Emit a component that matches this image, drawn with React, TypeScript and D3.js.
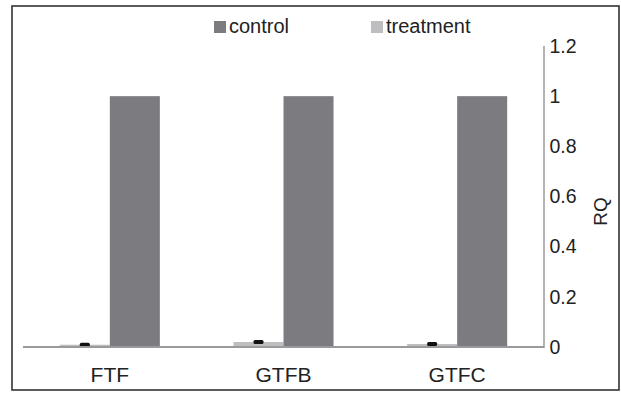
import { useEffect } from "react";
import * as d3 from "d3";

const categories = ["FTF", "GTFB", "GTFC"];
const seriesNames = ["control", "treatment"];
const controlValues = [1, 1, 1];
const treatmentValues = [0.009, 0.02, 0.012];
const treatmentErrors = [0.004, 0.004, 0.004];
const yTicks = [0, 0.2, 0.4, 0.6, 0.8, 1, 1.2];

const colors: Record<string, string> = { control: "#7c7c80", treatment: "#bebec0" };
const font = "'Liberation Sans', Arial, sans-serif";

const App = () => {
  useEffect(() => {
    document.body.style.margin = "0";
  }, []);

  const width = 621;
  const height = 393;
  const plotLeft = 23;
  const plotRight = 544;

  const x = d3.scaleBand<string>().domain(categories).range([plotLeft, plotRight]).paddingInner(0.424).paddingOuter(0.212);
  // treatment drawn on the left, control on the right
  const xSub = d3.scaleBand<string>().domain(["treatment", "control"]).range([0, x.bandwidth()]);
  const y = d3.scaleLinear().domain([0, 1.2]).range([347, 46]);

  return (
    <svg width={width} height={height} style={{ display: "block" }} fontFamily={font}>
      <rect x={12} y={6} width={607} height={384} fill="white" stroke="#333" strokeWidth={1.6} />

      {categories.map((c, i) => {
        const x0 = x(c)!;
        const tx = x0 + xSub("treatment")!;
        const cx = x0 + xSub("control")!;
        const ty = y(treatmentValues[i]);
        const mid = tx + xSub.bandwidth() / 2;
        return (
          <g key={c}>
            <rect x={tx} y={ty} width={xSub.bandwidth()} height={y(0) - ty} fill={colors.treatment} />
            <rect x={cx} y={y(controlValues[i])} width={xSub.bandwidth()} height={y(0) - y(controlValues[i])} fill={colors.control} />
            <rect x={mid - 5} y={y(treatmentValues[i] + treatmentErrors[i]) - 1} width={10} height={y(treatmentValues[i] - treatmentErrors[i]) - y(treatmentValues[i] + treatmentErrors[i]) + 2} rx={1.5} fill="#111" />
            <text x={x0 + x.bandwidth() / 2} y={382} textAnchor="middle" fontSize={21} fill="#222">{c}</text>
          </g>
        );
      })}

      {/* x baseline */}
      <line x1={plotLeft} x2={plotRight} y1={y(0)} y2={y(0)} stroke="#9a9a9c" strokeWidth={2} />
      {/* right y axis */}
      <line x1={plotRight} x2={plotRight} y1={y(1.2)} y2={y(0) + 1} stroke="#9a9a9c" strokeWidth={1.5} />
      {yTicks.map((t) => (
        <text key={t} x={549.5} y={y(t)} dy="0.35em" fontSize={19.5} fill="#222">{d3.format("~g")(t)}</text>
      ))}
      <text transform={`translate(600,${y(0.6) + 15}) rotate(-90)`} textAnchor="middle" dy="0.35em" fontSize={19} fill="#222">RQ</text>

      {/* legend */}
      {seriesNames.map((s, i) => {
        const lx = 214 + i * 157;
        return (
          <g key={s}>
            <rect x={lx} y={21} width={12} height={12} fill={colors[s]} />
            <text x={lx + 15} y={33} fontSize={20} fill="#222">{s}</text>
          </g>
        );
      })}
    </svg>
  );
};

export default App;
